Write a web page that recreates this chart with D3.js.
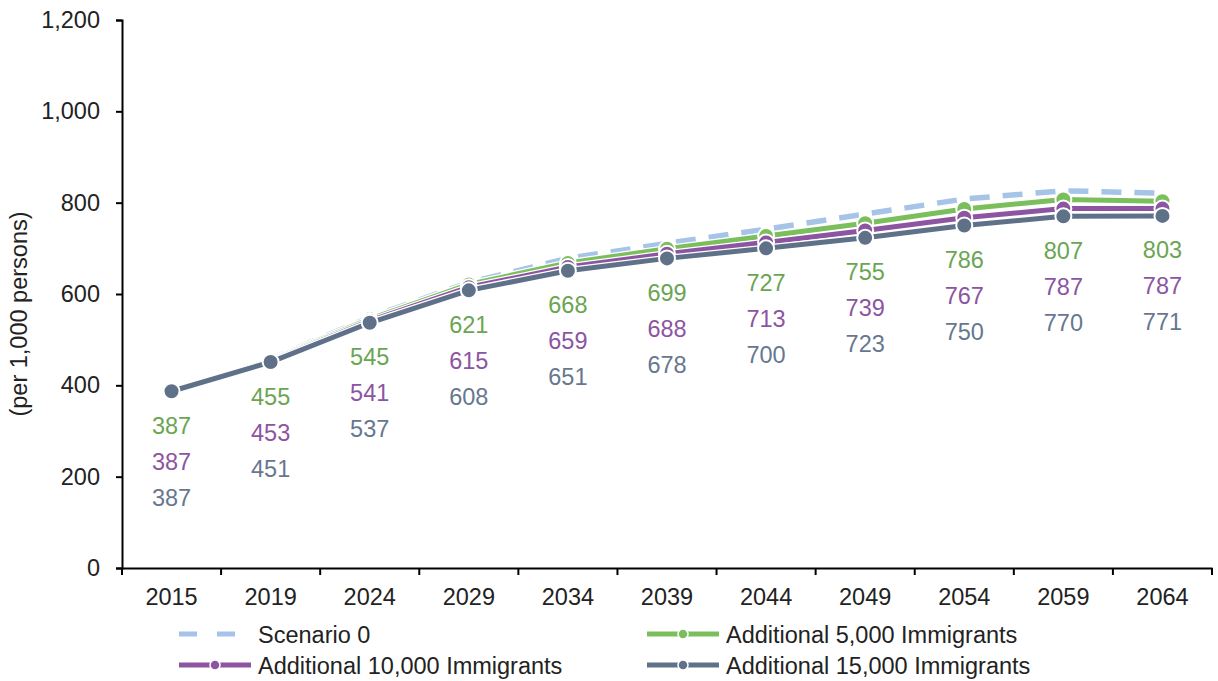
<!DOCTYPE html>
<html><head><meta charset="utf-8">
<script src="https://cdn.jsdelivr.net/npm/d3@7"></script>
<style>body{margin:0;background:#fff}svg{display:block;font-family:"Liberation Sans",Arial,sans-serif}</style>
</head><body><svg id="c" width="1218" height="681"></svg>
<script>
const years = ["2015","2019","2024","2029","2034","2039","2044","2049","2054","2059","2064"];
const scenario0 = [387,457,549,625,678,711,742,775,808,826,821];
const add5000 = [387,455,545,621,668,699,727,755,786,807,803];
const add10000 = [387,453,541,615,659,688,713,739,767,787,787];
const add15000 = [387,451,537,608,651,678,700,723,750,770,771];
const yTicks = [0,200,400,600,800,1000,1200];
const seriesNames = ["Scenario 0","Additional 5,000 Immigrants","Additional 10,000 Immigrants","Additional 15,000 Immigrants"];
const colors = ["#a6c3e8","#7bbf5c","#8c54a1","#5f7189"];
const labelColors = [null,"#6aa552","#8c54a1","#66778f"];
const FS = 23.5;

const svg = d3.select("#c");
const L=122,R=1212,T=20,B=568;
const x = d3.scaleBand().domain(years).range([L,R]);
const y = d3.scaleLinear().domain([0,1200]).range([B,T]);

// y axis
const ya = svg.append("g").attr("transform",`translate(${L},0)`)
  .call(d3.axisLeft(y).tickValues(yTicks).tickFormat(d3.format(",")).tickSize(6).tickPadding(16));
ya.select(".domain").attr("stroke","#000").attr("stroke-width",2);
ya.selectAll(".tick line").attr("stroke","#000").attr("stroke-width",2);
ya.selectAll("text").attr("font-size",FS).attr("fill","#222").attr("font-family","Liberation Sans, Arial, sans-serif");

// x axis
const xa = svg.append("g").attr("transform",`translate(0,${B})`)
  .call(d3.axisBottom(x).tickSize(0).tickPadding(20));
xa.select(".domain").attr("stroke","#000").attr("stroke-width",2);
xa.selectAll("text").attr("font-size",FS).attr("fill","#222").attr("font-family","Liberation Sans, Arial, sans-serif");
const bounds = years.map(d=>x(d)).concat([R]);
svg.append("g").selectAll("line").data(bounds).join("line")
  .attr("x1",d=>d).attr("x2",d=>d).attr("y1",B).attr("y2",B+7).attr("stroke","#000").attr("stroke-width",2);

svg.append("text").attr("transform",`translate(27,${(T+B)/2+20}) rotate(-90)`)
  .attr("text-anchor","middle").attr("font-size",FS).attr("fill","#222").text("(per 1,000 persons)");

const cx = d => x(d)+x.bandwidth()/2;
const line = d3.line().x((d,i)=>cx(years[i])).y(d=>y(d));

// Scenario 0
svg.append("path").datum(scenario0).attr("d",line).attr("fill","none")
  .attr("stroke",colors[0]).attr("stroke-width",5.5).attr("stroke-dasharray","20,13");

const data = [add5000,add10000,add15000];
data.forEach((s,k)=>{
  const g = svg.append("g");
  g.append("path").datum(s).attr("d",line).attr("fill","none").attr("stroke","#fff").attr("stroke-width",7.5);
  g.append("path").datum(s).attr("d",line).attr("fill","none").attr("stroke",colors[k+1]).attr("stroke-width",5);
  g.selectAll("circle").data(s).join("circle").attr("cx",(d,i)=>cx(years[i])).attr("cy",d=>y(d))
    .attr("r",8).attr("fill",colors[k+1]).attr("stroke","#fff").attr("stroke-width",2);
});

// labels stacked below the lowest series point
data.forEach((s,k)=>{
  svg.append("g").selectAll("text").data(s).join("text")
    .attr("x",(d,i)=>cx(years[i])).attr("y",(d,i)=>y(add15000[i])+114.5-36*(2-k))
    .attr("text-anchor","middle").attr("font-size",FS).attr("fill",labelColors[k+1]).text(d=>d);
});

// legend
const lg = svg.append("g").attr("font-size",FS).attr("fill","#222");
const items = [
  {x:179,y:634,k:0},{x:647,y:634,k:1},{x:179,y:665,k:2},{x:647,y:665,k:3}
];
items.forEach(it=>{
  const g = lg.append("g");
  if(it.k===0){
    g.append("line").attr("x1",it.x).attr("x2",it.x+60).attr("y1",it.y).attr("y2",it.y)
      .attr("stroke",colors[0]).attr("stroke-width",5).attr("stroke-dasharray","18,20");
  } else {
    g.append("line").attr("x1",it.x).attr("x2",it.x+72).attr("y1",it.y).attr("y2",it.y)
      .attr("stroke",colors[it.k]).attr("stroke-width",5);
    g.append("circle").attr("cx",it.x+36).attr("cy",it.y).attr("r",5).attr("fill",colors[it.k]).attr("stroke","#fff").attr("stroke-width",1.5);
  }
  g.append("text").attr("x",it.x+79).attr("y",it.y+8.5).text(seriesNames[it.k]);
});
</script></body></html>
